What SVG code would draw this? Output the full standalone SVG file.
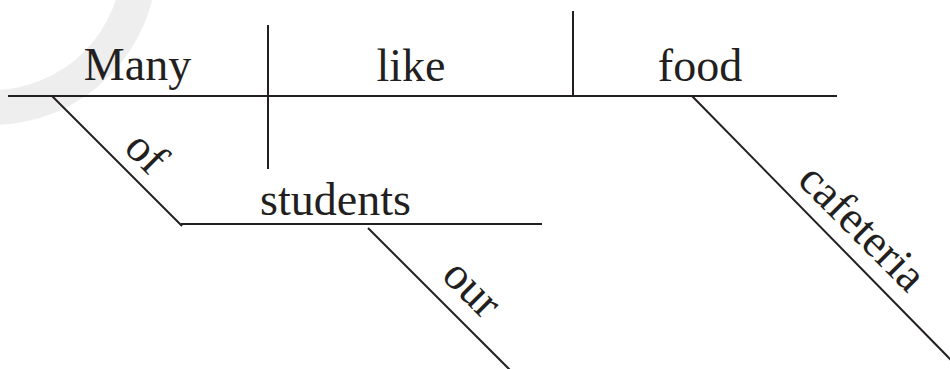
<svg xmlns="http://www.w3.org/2000/svg" width="950" height="369" viewBox="0 0 950 369">
  <style>
    .ln { stroke: #231f20; stroke-width: 2; fill: none; stroke-linecap: butt; }
    .w { font-family: "Liberation Serif", "Times New Roman", serif; font-size: 46px; fill: #231f20; text-anchor: middle; }
  </style>
  <rect x="0" y="0" width="950" height="369" fill="#ffffff"/>
  <g id="watermark">
    <path d="M -173 -40 a 165 165 0 1 0 330 0 a 165 165 0 1 0 -330 0 Z M -138 -40 a 130 130 0 1 1 260 0 a 130 130 0 1 1 -260 0 Z" fill="#eeeeee" fill-rule="evenodd"/>
  </g>
  <g id="connectors">
    <line class="ln" x1="8" y1="96" x2="837" y2="96"/>
    <line class="ln" x1="268" y1="25" x2="268" y2="169"/>
    <line class="ln" x1="573" y1="11" x2="573" y2="96"/>
    <line class="ln" x1="52" y1="96" x2="182" y2="226"/>
    <line class="ln" x1="181" y1="224" x2="542" y2="224"/>
    <line class="ln" x1="368" y1="228" x2="510" y2="370"/>
    <line class="ln" x1="692" y1="96" x2="952" y2="361"/>
  </g>
  <g id="node-many"><text class="w" x="137.5" y="80">Many</text></g>
  <g id="node-like"><text class="w" x="411" y="81">like</text></g>
  <g id="node-food"><text class="w" x="700" y="81">food</text></g>
  <g id="node-of"><text class="w" x="136" y="163" transform="rotate(45 136 163)">of</text></g>
  <g id="node-students"><text class="w" x="335.5" y="215">students</text></g>
  <g id="node-our"><text class="w" x="462" y="299" transform="rotate(45 462 299)">our</text></g>
  <g id="node-cafeteria"><text class="w" x="852" y="238" transform="rotate(45 852 238)">cafeteria</text></g>
</svg>
